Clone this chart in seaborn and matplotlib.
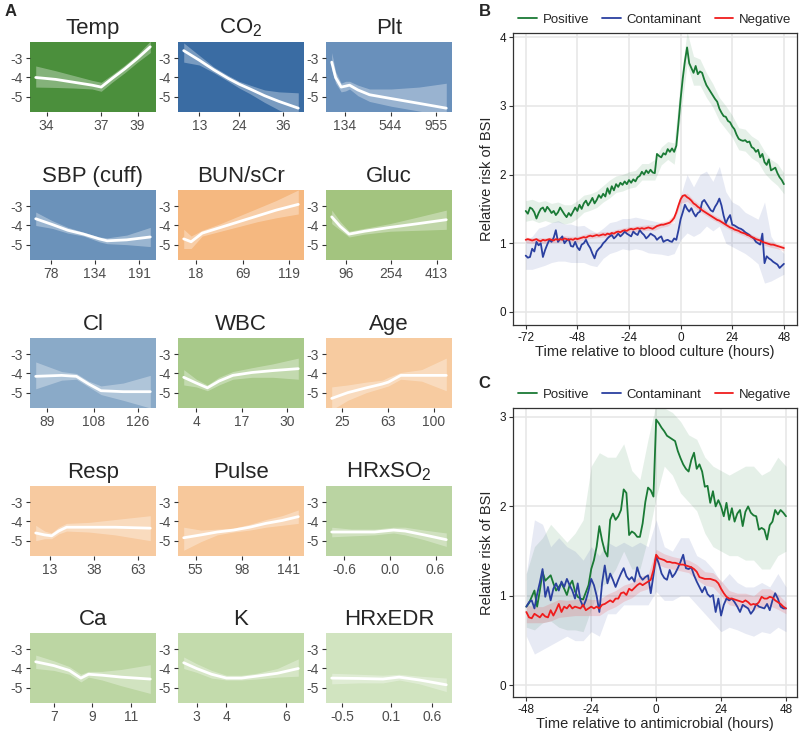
import numpy as np
import pandas as pd
import seaborn as sns
import matplotlib.pyplot as plt

sns.set_theme(style="white")
plt.rcParams["font.family"] = ["Liberation Sans", "DejaVu Sans"]
plt.rcParams["mathtext.default"] = "regular"
plt.rcParams["axes.unicode_minus"] = False

# ---- Panel A: partial effects (x, fit, lower, upper, tick labels) ----
temp_x = [33.4, 34.5, 35.5, 36.5, 37.0, 37.6, 38.3, 39.0, 39.7]
temp_fit = [-4.0, -4.1, -4.25, -4.4, -4.5, -4.05, -3.55, -3.0, -2.4]
temp_lo = [-4.5, -4.52, -4.55, -4.6, -4.72, -4.25, -3.75, -3.2, -2.7]
temp_hi = [-3.4, -3.65, -3.9, -4.15, -4.25, -3.85, -3.35, -2.8, -2.1]
temp_ticks = [34, 37, 39]

co2_x = [8.7, 13, 17, 21, 24, 27, 31, 35, 40.3]
co2_fit = [-2.6, -3.1, -3.6, -4.05, -4.35, -4.6, -4.95, -5.25, -5.6]
co2_lo = [-3.2, -3.35, -3.75, -4.2, -4.55, -4.85, -5.3, -5.7, -6.1]
co2_hi = [-2.2, -2.85, -3.45, -3.9, -4.2, -4.4, -4.65, -4.75, -4.8]
co2_ticks = [13, 24, 36]

plt_x = [15, 50, 100, 140, 175, 250, 355, 550, 800, 1045]
plt_fit = [-3.2, -4.0, -4.5, -4.45, -4.4, -4.65, -4.9, -5.1, -5.35, -5.6]
plt_lo = [-3.6, -4.3, -4.75, -4.7, -4.6, -4.95, -5.25, -5.5, -5.75, -6.0]
plt_hi = [-2.7, -3.7, -4.3, -4.2, -4.2, -4.4, -4.6, -4.6, -4.5, -4.3]
plt_ticks = [134, 544, 955]

sbp_x = [59, 80, 100, 120, 140, 150, 175, 205]
sbp_fit = [-3.65, -3.95, -4.25, -4.45, -4.7, -4.8, -4.75, -4.6]
sbp_lo = [-4.0, -4.15, -4.4, -4.55, -4.85, -4.95, -5.0, -5.1]
sbp_hi = [-3.3, -3.75, -4.1, -4.35, -4.6, -4.65, -4.5, -4.1]
sbp_ticks = [78, 134, 191]

bun_x = [5, 13, 25, 45, 65, 85, 105, 129]
bun_fit = [-4.7, -4.85, -4.4, -4.1, -3.8, -3.5, -3.2, -2.9]
bun_lo = [-5.2, -5.2, -4.55, -4.3, -4.05, -3.8, -3.6, -3.4]
bun_hi = [-4.2, -4.55, -4.25, -3.9, -3.5, -3.1, -2.7, -2.15]
bun_ticks = [18, 69, 119]

gluc_x = [45, 75, 106, 160, 250, 350, 447]
gluc_fit = [-3.55, -4.05, -4.45, -4.3, -4.1, -3.9, -3.7]
gluc_lo = [-3.9, -4.25, -4.6, -4.45, -4.3, -4.25, -4.2]
gluc_hi = [-3.2, -3.8, -4.3, -4.15, -3.9, -3.55, -3.2]
gluc_ticks = [96, 254, 413]

cl_x = [84.5, 95, 101, 106, 111, 120, 131]
cl_fit = [-4.15, -4.1, -4.15, -4.55, -4.9, -4.95, -4.95]
cl_lo = [-4.8, -4.35, -4.3, -4.7, -5.1, -5.4, -5.8]
cl_hi = [-3.4, -3.9, -4.0, -4.4, -4.65, -4.5, -4.1]
cl_ticks = [89, 108, 126]

wbc_x = [0.4, 4, 7.2, 10.5, 14.5, 20, 26, 33.3]
wbc_fit = [-4.2, -4.5, -4.75, -4.4, -4.1, -3.95, -3.85, -3.75]
wbc_lo = [-4.6, -4.7, -4.9, -4.6, -4.3, -4.2, -4.2, -4.3]
wbc_hi = [-3.8, -4.3, -4.6, -4.2, -3.9, -3.7, -3.5, -3.2]
wbc_ticks = [4, 17, 30]

age_x = [17, 30, 45, 58, 63, 73, 90, 110]
age_fit = [-5.3, -5.0, -4.75, -4.55, -4.45, -4.1, -4.1, -4.1]
age_lo = [-5.9, -5.4, -5.0, -4.75, -4.65, -4.3, -4.4, -4.9]
age_hi = [-4.7, -4.6, -4.45, -4.35, -4.2, -3.95, -3.8, -3.2]
age_ticks = [25, 63, 100]

resp_x = [5, 10, 14, 18, 22.5, 35, 50, 70]
resp_fit = [-4.6, -4.7, -4.75, -4.5, -4.3, -4.3, -4.3, -4.35]
resp_lo = [-5.0, -4.9, -4.9, -4.65, -4.5, -4.55, -4.7, -5.0]
resp_hi = [-4.2, -4.5, -4.6, -4.3, -4.1, -4.05, -3.9, -3.7]
resp_ticks = [13, 38, 63]

pulse_x = [44, 60, 75, 90, 105, 120, 135, 150]
pulse_fit = [-4.85, -4.7, -4.55, -4.45, -4.3, -4.1, -3.95, -3.75]
pulse_lo = [-5.5, -5.05, -4.7, -4.55, -4.45, -4.3, -4.2, -4.1]
pulse_hi = [-4.3, -4.45, -4.4, -4.35, -4.15, -3.9, -3.7, -3.4]
pulse_ticks = [55, 98, 141]

hrso2_x = [-0.76, -0.5, -0.2, 0.05, 0.2, 0.45, 0.74]
hrso2_fit = [-4.55, -4.55, -4.55, -4.45, -4.5, -4.7, -4.95]
hrso2_lo = [-4.8, -4.75, -4.7, -4.6, -4.7, -4.95, -5.3]
hrso2_hi = [-4.3, -4.4, -4.4, -4.3, -4.3, -4.45, -4.6]
hrso2_ticks = [-0.6, 0.0, 0.6]

ca_x = [6.06, 7, 7.8, 8.4, 8.8, 9.5, 10.5, 12]
ca_fit = [-3.65, -3.85, -4.1, -4.5, -4.3, -4.35, -4.45, -4.55]
ca_lo = [-4.0, -4.1, -4.3, -4.7, -4.45, -4.6, -4.9, -5.3]
ca_hi = [-3.3, -3.6, -3.9, -4.3, -4.15, -4.15, -4.05, -3.8]
ca_ticks = [7, 9, 11]

k_x = [2.57, 3, 3.5, 4, 4.5, 5, 5.7, 6.4]
k_fit = [-3.7, -4.0, -4.3, -4.5, -4.5, -4.4, -4.25, -4.0]
k_lo = [-4.0, -4.2, -4.5, -4.6, -4.6, -4.55, -4.45, -4.4]
k_hi = [-3.4, -3.75, -4.1, -4.35, -4.35, -4.25, -4.0, -3.5]
k_ticks = [3, 4, 6]

hredr_x = [-0.63, -0.3, 0.0, 0.2, 0.45, 0.78]
hredr_fit = [-4.5, -4.52, -4.55, -4.45, -4.6, -4.85]
hredr_lo = [-4.8, -4.75, -4.75, -4.6, -4.8, -5.2]
hredr_hi = [-4.25, -4.3, -4.35, -4.3, -4.4, -4.5]
hredr_ticks = [-0.5, 0.1, 0.6]

# ---- Panel B: relative risk vs time to blood culture ----
hours_b = list(range(-72, 49))
band_hours_b = list(range(-72, 49, 3))

pos_b = [1.47, 1.43, 1.52, 1.50, 1.45, 1.36, 1.44, 1.50, 1.52, 1.46,
         1.53, 1.49, 1.44, 1.47, 1.41, 1.45, 1.52, 1.47, 1.42, 1.38,
         1.44, 1.40, 1.46, 1.52, 1.47, 1.56, 1.50, 1.58, 1.62, 1.55,
         1.60, 1.66, 1.58, 1.63, 1.70, 1.66, 1.72, 1.68, 1.80, 1.72,
         1.83, 1.77, 1.86, 1.82, 1.88, 1.85, 1.90, 1.86, 1.92, 1.88,
         1.93, 1.90, 1.96, 1.98, 2.04, 2.00, 2.06, 2.02, 2.07, 2.03,
         2.02, 2.30, 2.27, 2.25, 2.31, 2.29, 2.37, 2.33, 2.38, 2.33,
         2.42, 2.75, 3.10, 3.40, 3.65, 3.85, 3.62, 3.55, 3.48, 3.58,
         3.46, 3.50, 3.48, 3.38, 3.30, 3.25, 3.20, 3.15, 3.10, 3.06,
         2.96, 2.90, 2.85, 2.84, 2.78, 2.76, 2.70, 2.66, 2.58, 2.52,
         2.50, 2.49, 2.50, 2.47, 2.48, 2.40, 2.38, 2.33, 2.36, 2.25,
         2.30, 2.18, 2.14, 2.22, 2.06, 2.08, 2.10, 2.02, 1.96, 1.92,
         1.86]
cont_b = [0.82, 0.79, 0.80, 0.92, 0.88, 1.02, 0.97, 1.00, 0.80, 0.90,
          0.98, 1.05, 1.02, 1.08, 1.19, 1.02, 1.06, 1.10, 1.00, 1.04,
          1.06, 0.96, 0.95, 1.02, 0.94, 0.90, 0.98, 1.00, 1.05, 0.98,
          0.93, 0.85, 0.78, 0.88, 0.92, 0.95, 1.00, 1.03, 1.07, 1.10,
          1.12, 1.07, 1.10, 1.14, 1.10, 1.13, 1.17, 1.14, 1.12, 1.10,
          1.17, 1.14, 1.12, 1.19, 1.15, 1.12, 1.07, 1.10, 1.14, 1.12,
          1.10, 1.05, 1.08, 1.10, 1.02, 1.04, 1.05, 1.03, 1.02, 1.07,
          1.05, 1.19, 1.35, 1.45, 1.56, 1.50, 1.46, 1.51, 1.44, 1.39,
          1.44, 1.46, 1.60, 1.63, 1.58, 1.53, 1.48, 1.46, 1.53, 1.58,
          1.65, 1.55, 1.40, 1.29, 1.36, 1.41, 1.27, 1.26, 1.24, 1.22,
          1.21, 1.19, 1.16, 1.14, 1.12, 1.09, 1.07, 1.02, 1.00, 0.98,
          1.14, 0.71, 0.81, 0.78, 0.76, 0.73, 0.71, 0.69, 0.64, 0.67,
          0.70]
neg_b = [1.05, 1.06, 1.05, 1.04, 1.05, 1.06, 1.04, 1.03, 1.05, 1.04,
         1.05, 1.06, 1.05, 1.04, 1.06, 1.05, 1.06, 1.05, 1.07, 1.06,
         1.05, 1.06, 1.05, 1.07, 1.06, 1.07, 1.08, 1.09, 1.08, 1.10,
         1.11, 1.10, 1.11, 1.12, 1.11, 1.12, 1.13, 1.12, 1.14, 1.13,
         1.15, 1.14, 1.16, 1.17, 1.16, 1.18, 1.19, 1.18, 1.20, 1.21,
         1.20, 1.21, 1.22, 1.21, 1.22, 1.21, 1.22, 1.23, 1.22, 1.21,
         1.23, 1.25, 1.26, 1.27, 1.27, 1.28, 1.29, 1.30, 1.33, 1.37,
         1.45, 1.55, 1.64, 1.69, 1.70, 1.67, 1.65, 1.62, 1.58, 1.56,
         1.53, 1.51, 1.48, 1.46, 1.44, 1.42, 1.40, 1.38, 1.36, 1.34,
         1.33, 1.31, 1.29, 1.27, 1.25, 1.23, 1.22, 1.20, 1.19, 1.18,
         1.16, 1.15, 1.14, 1.12, 1.11, 1.09, 1.08, 1.06, 1.05, 1.04,
         1.02, 1.01, 1.00, 0.99, 0.98, 0.98, 0.97, 0.96, 0.95, 0.94,
         0.93]

pos_b_lo = [1.32, 1.34, 1.30, 1.33, 1.30, 1.31, 1.28, 1.30, 1.36, 1.45,
            1.48, 1.52, 1.60, 1.66, 1.74, 1.76, 1.80, 1.82, 1.92, 1.92,
            1.92, 2.14, 2.22, 2.15, 2.85, 3.60, 3.30, 3.30, 3.12, 2.98,
            2.78, 2.66, 2.54, 2.36, 2.34, 2.24, 2.18, 2.02, 1.92, 1.84,
            1.72]
pos_b_hi = [1.62, 1.64, 1.60, 1.62, 1.58, 1.60, 1.56, 1.56, 1.62, 1.70,
            1.72, 1.76, 1.84, 1.92, 1.98, 2.00, 2.04, 2.06, 2.16, 2.16,
            2.22, 2.40, 2.48, 2.46, 3.38, 4.08, 3.72, 3.68, 3.48, 3.32,
            3.12, 3.00, 2.86, 2.68, 2.66, 2.56, 2.50, 2.34, 2.22, 2.16,
            2.02]
cont_b_lo = [0.62, 0.62, 0.65, 0.68, 0.72, 0.74, 0.74, 0.72, 0.72, 0.72,
             0.68, 0.66, 0.78, 0.85, 0.88, 0.92, 0.90, 0.92, 0.90, 0.86,
             0.85, 0.84, 0.82, 0.85, 1.05, 1.15, 1.10, 1.15, 1.25, 1.18,
             1.25, 1.00, 0.95, 0.90, 0.85, 0.78, 0.70, 0.42, 0.45, 0.50,
             0.55]
cont_b_hi = [1.05, 1.10, 1.22, 1.25, 1.30, 1.33, 1.28, 1.28, 1.25, 1.26,
             1.20, 1.15, 1.22, 1.30, 1.32, 1.36, 1.36, 1.38, 1.36, 1.34,
             1.32, 1.30, 1.28, 1.30, 1.70, 2.00, 1.82, 2.00, 2.05, 1.90,
             2.12, 1.75, 1.60, 1.55, 1.45, 1.40, 1.35, 1.60, 1.10, 0.95,
             0.85]
neg_b_lo = [1.01, 1.00, 1.00, 1.00, 1.01, 1.01, 1.03, 1.02, 1.02, 1.05,
            1.07, 1.08, 1.09, 1.09, 1.12, 1.14, 1.16, 1.17, 1.18, 1.19,
            1.19, 1.23, 1.25, 1.32, 1.58, 1.61, 1.53, 1.46, 1.40, 1.34,
            1.29, 1.23, 1.18, 1.14, 1.10, 1.05, 1.01, 0.97, 0.94, 0.92,
            0.89]
neg_b_hi = [1.09, 1.08, 1.08, 1.08, 1.09, 1.09, 1.11, 1.10, 1.10, 1.13,
            1.15, 1.16, 1.17, 1.17, 1.20, 1.22, 1.24, 1.25, 1.26, 1.27,
            1.27, 1.31, 1.33, 1.42, 1.70, 1.73, 1.63, 1.56, 1.48, 1.42,
            1.37, 1.31, 1.26, 1.22, 1.18, 1.13, 1.09, 1.05, 1.02, 1.00,
            0.97]

# ---- Panel C: relative risk vs time to antimicrobial ----
hours_c = list(range(-48, 49))
band_hours_c = list(range(-48, 49, 3))

pos_c = [0.88, 0.92, 0.99, 1.06, 0.88, 1.06, 1.27, 1.17, 1.20, 1.23,
         1.14, 1.06, 1.10, 1.14, 1.08, 1.01, 1.12, 1.17, 1.05, 0.99,
         0.97, 0.96, 1.04, 1.12, 1.30, 1.40, 1.55, 1.78, 1.62, 1.50,
         1.44, 1.85, 1.92, 1.85, 1.89, 1.96, 2.19, 2.15, 1.68, 1.72,
         1.70, 1.66, 1.66, 1.81, 2.05, 2.21, 2.18, 2.11, 2.97, 2.93,
         2.88, 2.84, 2.79, 2.77, 2.75, 2.73, 2.62, 2.54, 2.47, 2.42,
         2.39, 2.52, 2.60, 2.42, 2.47, 2.39, 2.22, 2.23, 2.04, 2.17,
         2.00, 2.07, 2.00, 1.89, 2.04, 1.85, 1.98, 1.83, 1.92, 1.96,
         1.78, 1.94, 2.00, 1.93, 1.90, 1.89, 1.74, 1.76, 1.74, 1.63,
         1.79, 1.83, 1.96, 1.91, 1.96, 1.93, 1.89]
cont_c = [0.88, 0.93, 0.95, 0.86, 1.02, 1.15, 1.30, 0.99, 1.10, 0.95,
          1.08, 1.14, 1.06, 1.16, 1.10, 1.19, 1.12, 1.06, 0.97, 1.14,
          0.95, 0.88, 0.95, 1.06, 1.19, 1.12, 1.00, 0.82, 1.14, 1.34,
          1.14, 1.25, 1.18, 1.10, 1.18, 1.25, 1.31, 1.22, 1.18, 1.21,
          1.16, 1.32, 1.22, 1.18, 1.21, 1.23, 1.03, 1.23, 1.44, 1.36,
          1.25, 1.20, 1.18, 1.29, 1.21, 1.25, 1.31, 1.38, 1.46, 1.31,
          1.30, 1.32, 1.23, 1.16, 1.10, 1.04, 1.10, 1.02, 0.99, 1.01,
          0.82, 0.97, 0.78, 0.90, 0.97, 0.95, 0.97, 0.93, 0.88, 0.82,
          0.90, 0.88, 0.86, 0.80, 0.84, 0.91, 0.88, 0.87, 0.86, 0.91,
          0.84, 0.95, 1.03, 0.97, 0.88, 0.86, 0.86]
neg_c = [0.82, 0.76, 0.75, 0.80, 0.78, 0.76, 0.80, 0.77, 0.76, 0.84,
         0.78, 0.84, 0.91, 0.82, 0.88, 0.86, 0.90, 0.86, 0.88, 0.87,
         0.86, 0.90, 0.84, 0.86, 0.88, 0.86, 0.88, 0.86, 0.90, 0.91,
         0.93, 0.95, 0.93, 0.97, 0.97, 1.03, 1.04, 1.01, 1.08, 1.06,
         1.09, 1.12, 1.14, 1.12, 1.14, 1.16, 1.18, 1.29, 1.46, 1.42,
         1.41, 1.40, 1.38, 1.38, 1.37, 1.37, 1.36, 1.35, 1.35, 1.34,
         1.33, 1.32, 1.30, 1.27, 1.21, 1.20, 1.19, 1.19, 1.19, 1.18,
         1.17, 1.14, 1.08, 1.03, 0.99, 0.97, 0.97, 0.96, 0.95, 0.94,
         0.93, 0.95, 0.93, 0.90, 0.91, 0.90, 0.93, 0.99, 0.97, 0.97,
         0.99, 0.98, 0.95, 0.93, 0.91, 0.88, 0.86]

pos_c_lo = [0.65, 0.62, 0.70, 0.72, 0.65, 0.62, 0.62, 0.60, 0.85, 1.10,
            1.15, 1.30, 1.50, 1.30, 1.30, 1.65, 2.10, 2.45, 2.35, 2.15,
            2.05, 1.95, 1.70, 1.55, 1.50, 1.45, 1.45, 1.40, 1.40, 1.30,
            1.30, 1.45, 1.50]
pos_c_hi = [1.25, 1.55, 1.65, 1.80, 1.70, 1.60, 1.70, 1.85, 2.45, 2.60,
            2.55, 2.55, 2.70, 2.40, 2.30, 2.75, 3.15, 3.10, 3.05, 2.95,
            2.80, 2.75, 2.55, 2.45, 2.40, 2.35, 2.40, 2.45, 2.45, 2.35,
            2.40, 2.55, 2.45]
cont_c_lo = [0.55, 0.35, 0.40, 0.45, 0.50, 0.55, 0.50, 0.50, 0.60, 0.55,
             0.80, 0.80, 0.90, 0.90, 0.90, 0.90, 1.05, 0.95, 0.95, 1.00,
             1.00, 0.90, 0.80, 0.70, 0.60, 0.65, 0.62, 0.58, 0.55, 0.60,
             0.58, 0.65, 0.60]
cont_c_hi = [1.25, 1.85, 1.80, 1.55, 1.65, 1.55, 1.50, 1.40, 1.55, 1.45,
             1.60, 1.55, 1.60, 1.55, 1.60, 1.55, 1.85, 1.55, 1.50, 1.65,
             1.65, 1.45, 1.40, 1.30, 1.15, 1.25, 1.15, 1.10, 1.10, 1.15,
             1.10, 1.25, 1.10]
neg_c_lo = [0.70, 0.70, 0.70, 0.72, 0.76, 0.77, 0.78, 0.78, 0.78, 0.78,
            0.84, 0.88, 0.94, 0.98, 1.05, 1.08, 1.36, 1.32, 1.30, 1.28,
            1.26, 1.18, 1.12, 1.10, 1.00, 0.90, 0.88, 0.87, 0.84, 0.88,
            0.89, 0.85, 0.80]
neg_c_hi = [0.90, 0.88, 0.88, 0.92, 0.96, 0.95, 0.96, 0.98, 0.96, 0.96,
            1.02, 1.06, 1.12, 1.15, 1.22, 1.24, 1.52, 1.47, 1.44, 1.42,
            1.40, 1.35, 1.27, 1.26, 1.17, 1.06, 1.03, 1.03, 1.00, 1.08,
            1.08, 1.02, 0.93]

GROUPS = ["Positive", "Contaminant", "Negative"]
GROUP_COLORS = {"Positive": "#1a7a35", "Contaminant": "#2b40a0", "Negative": "#f01c1c"}
BAND_ALPHA = {"Positive": 0.11, "Contaminant": 0.11, "Negative": 0.14}

PANELS = [
    ("Temp", temp_x, temp_fit, temp_lo, temp_hi, temp_ticks, "#4b8f3c"),
    ("CO$_2$", co2_x, co2_fit, co2_lo, co2_hi, co2_ticks, "#3a6ca3"),
    ("Plt", plt_x, plt_fit, plt_lo, plt_hi, plt_ticks, "#6990bb"),
    ("SBP (cuff)", sbp_x, sbp_fit, sbp_lo, sbp_hi, sbp_ticks, "#6b92ba"),
    ("BUN/sCr", bun_x, bun_fit, bun_lo, bun_hi, bun_ticks, "#f5b880"),
    ("Gluc", gluc_x, gluc_fit, gluc_lo, gluc_hi, gluc_ticks, "#a3c47f"),
    ("Cl", cl_x, cl_fit, cl_lo, cl_hi, cl_ticks, "#8aaac8"),
    ("WBC", wbc_x, wbc_fit, wbc_lo, wbc_hi, wbc_ticks, "#a8c98a"),
    ("Age", age_x, age_fit, age_lo, age_hi, age_ticks, "#f7cba0"),
    ("Resp", resp_x, resp_fit, resp_lo, resp_hi, resp_ticks, "#f7caa0"),
    ("Pulse", pulse_x, pulse_fit, pulse_lo, pulse_hi, pulse_ticks, "#f7c89b"),
    ("HRxSO$_2$", hrso2_x, hrso2_fit, hrso2_lo, hrso2_hi, hrso2_ticks, "#bad4a2"),
    ("Ca", ca_x, ca_fit, ca_lo, ca_hi, ca_ticks, "#bcd6a3"),
    ("K", k_x, k_fit, k_lo, k_hi, k_ticks, "#c3dbac"),
    ("HRxEDR", hredr_x, hredr_fit, hredr_lo, hredr_hi, hredr_ticks, "#d1e4c0"),
]

fig = plt.figure(figsize=(8, 7.33), dpi=100)

col_left = [0.0375, 0.2225, 0.4075]
row_bottom = [0.8472, 0.6453, 0.4434, 0.2415, 0.0409]

for i, (title, xs, fit, lo, hi, ticks, color) in enumerate(PANELS):
    r, c = divmod(i, 3)
    ax = fig.add_axes([col_left[c], row_bottom[r], 0.1575, 0.0955])
    ax.set_facecolor(color)
    ax.fill_between(xs, lo, hi, color="white", alpha=0.32, lw=0)
    sns.lineplot(x=xs, y=fit, ax=ax, color="white", lw=2.0)
    ax.margins(x=0.05)
    ax.set_ylim(-5.8, -2.15)
    ax.set_yticks([-3, -4, -5])
    ax.set_yticklabels(["-3", "-4", "-5"])
    ax.set_xticks(ticks)
    ax.set_xticklabels([str(t) for t in ticks])
    for s in ax.spines.values():
        s.set_visible(False)
    ax.tick_params(bottom=True, left=True, length=3, width=0.8, color="#333333",
                   labelcolor="#4d4d4d", labelsize=10, pad=2)
    ax.set_xlabel("")
    ax.set_ylabel("")
    ax.set_title(title, fontsize=16, pad=6)


def draw_risk(ax, hours, lines, band_hours, bands, xlim, ylim, xticks, yticks, xlabel):
    for g in GROUPS:
        lo, hi = bands[g]
        ax.fill_between(band_hours, lo, hi, color=GROUP_COLORS[g], alpha=BAND_ALPHA[g], lw=0)
    df = pd.concat([pd.DataFrame({"hour": hours, "risk": lines[g], "group": g}) for g in GROUPS])
    sns.lineplot(data=df, x="hour", y="risk", hue="group", hue_order=GROUPS,
                 palette=GROUP_COLORS, lw=1.3, ax=ax)
    ax.set_xlim(*xlim)
    ax.set_ylim(*ylim)
    ax.set_xticks(xticks)
    ax.set_yticks(yticks)
    ax.grid(True, color="#e6e6e6", lw=1.1)
    ax.set_axisbelow(True)
    for s in ax.spines.values():
        s.set_visible(True)
        s.set_color("#333333")
        s.set_linewidth(0.9)
    ax.tick_params(bottom=True, left=True, length=3, width=0.8, color="#333333",
                   labelcolor="#1a1a1a", labelsize=8.5, pad=2)
    ax.set_xlabel(xlabel, fontsize=10.5, labelpad=1)
    ax.set_ylabel("Relative risk of BSI", fontsize=10.5, labelpad=4)
    sns.move_legend(ax, "lower center", bbox_to_anchor=(0.5, 1.0), ncol=3, title=None,
                    frameon=False, fontsize=9.5, handlelength=1.4, columnspacing=1.0,
                    handletextpad=0.45, borderaxespad=0.15)


ax_b = fig.add_axes([0.641, 0.5566, 0.355, 0.3984])
draw_risk(ax_b, hours_b,
          {"Positive": pos_b, "Contaminant": cont_b, "Negative": neg_b},
          band_hours_b,
          {"Positive": (pos_b_lo, pos_b_hi), "Contaminant": (cont_b_lo, cont_b_hi),
           "Negative": (neg_b_lo, neg_b_hi)},
          (-78, 54), (-0.19, 4.06), [-72, -48, -24, 0, 24, 48], [0, 1, 2, 3, 4],
          "Time relative to blood culture (hours)")

ax_c = fig.add_axes([0.641, 0.0491, 0.355, 0.3943])
draw_risk(ax_c, hours_c,
          {"Positive": pos_c, "Contaminant": cont_c, "Negative": neg_c},
          band_hours_c,
          {"Positive": (pos_c_lo, pos_c_hi), "Contaminant": (cont_c_lo, cont_c_hi),
           "Negative": (neg_c_lo, neg_c_hi)},
          (-53, 52), (-0.13, 3.1), [-48, -24, 0, 24, 48], [0, 1, 2, 3],
          "Time relative to antimicrobial (hours)")

fig.text(0.006, 0.995, "A", fontsize=12, fontweight="bold", va="top")
fig.text(0.598, 0.995, "B", fontsize=12, fontweight="bold", va="top")
fig.text(0.598, 0.487, "C", fontsize=12, fontweight="bold", va="top")

fig.savefig("out.png", dpi=100)
